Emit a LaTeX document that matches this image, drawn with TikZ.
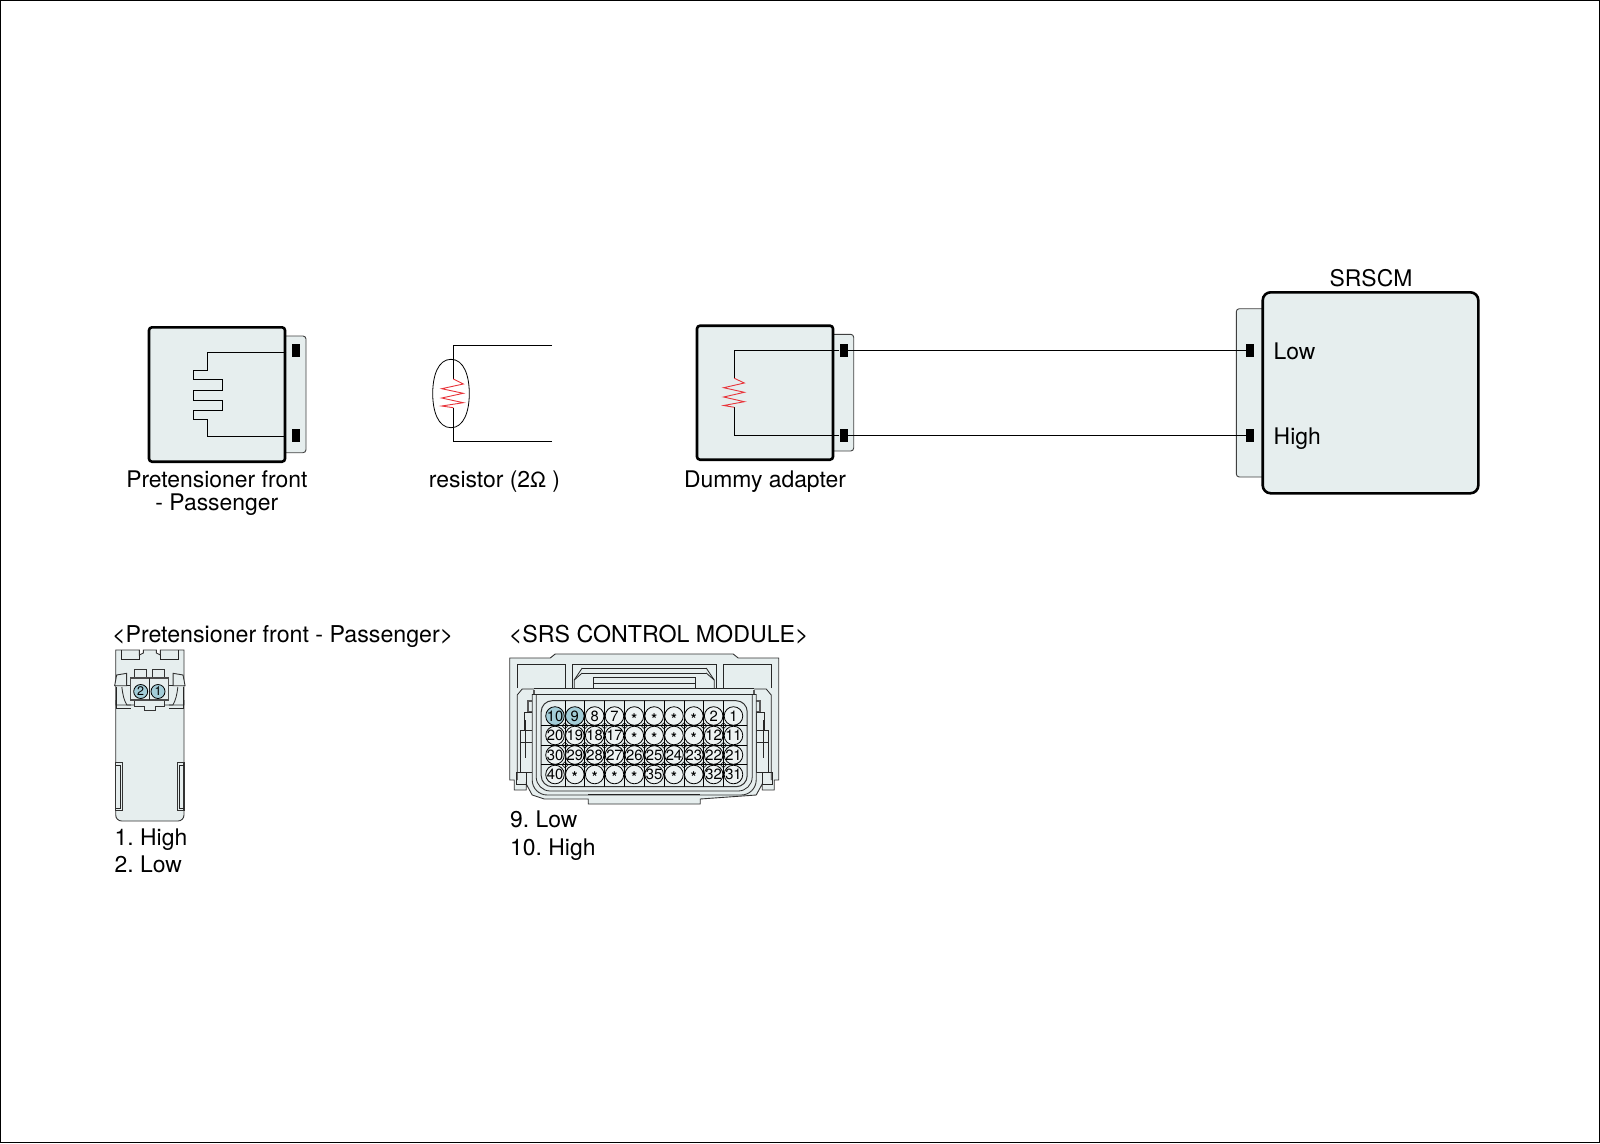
\documentclass[tikz,border=0pt]{standalone}
\usepackage{fontspec}
\setmainfont{TeX Gyre Heros}
\frenchspacing
\usetikzlibrary{positioning}
\definecolor{modfill}{HTML}{E6EEEE}
\definecolor{pinblue}{HTML}{A3CDD8}
\definecolor{pinface}{HTML}{EEF3F3}
\definecolor{coilred}{HTML}{E8343A}
\newcommand{\stardot}{\smash{\raisebox{-0.55em}{\textbf{*}}}}
\tikzset{
  modbox/.style = {draw, line width = 2.6, rounded corners = 3, fill = modfill, inner sep = 0},
  tabbox/.style = {draw = black!75, line width = 0.9, rounded corners = 3, fill = modfill},
  lug/.style = {fill = black, inner sep = 0, minimum width = 8, minimum height = 13},
  lbl/.style = {font = \fontsize{22.9}{24}\selectfont, inner sep = 0, anchor = base},
  lblw/.style = {lbl, anchor = base west},
  wire/.style = {line width = 1},
  coil/.style = {draw = coilred, line width = 0.9},
  thin line/.style = {draw = black!85, line width = 0.8},
  shell/.style = {draw = black!80, line width = 0.9, fill = modfill},
  pincirc/.style = {circle, draw, line width = 0.8, inner sep = 0, minimum size = 18.6,
    font = \fontsize{14.8}{15}\selectfont},
  smallpin/.style = {circle, draw, line width = 0.8, inner sep = 0, minimum size = 14,
    fill = pinblue, font = \fontsize{12.5}{13}\selectfont}
}
\begin{document}
\begin{tikzpicture}[x = 1pt, y = -1pt]
  \useasboundingbox (0, 0) rectangle (1600, 1143);
  \draw [line width = 1] (0.5, 0.5) rectangle (1599.5, 1142.5);

  % pretensioner
  \draw [tabbox] (280, 336) rectangle (306, 452.7);
  \node [modbox, minimum width = 136, minimum height = 134.4] (pret) at (217, 394.5) {};
  \node [lug] (pretA) at (296, 350.3) {};
  \node [lug] (pretB) at (296, 435.3) {};
  \draw [wire] (pret.east |- 0, 352.3) -- (207.3, 352.3) -- (207.3, 370) -- (193.3, 370)
    -- (193.3, 379.3) -- (222.3, 379.3) -- (222.3, 390) -- (193.3, 390) -- (193.3, 400.3)
    -- (222.3, 400.3) -- (222.3, 410.7) -- (193.3, 410.7) -- (193.3, 419.3) -- (207.3, 419.3)
    -- (207.3, 436.7) -- (pret.east |- 0, 436.7);
  \node [lbl] (pretlbl) at (216.8, 487) {Pretensioner front};
  \node [lbl] (pretlblb) at (216.8, 510.3) {- Passenger};

  % resistor
  \coordinate (resA) at (552, 345.3);
  \coordinate (resB) at (552, 441);
  \draw [wire] (resA) -- (453.3, 345.3) -- (453.3, 379);
  \draw [wire] (resB) -- (453.3, 441) -- (453.3, 407.7);
  \draw [line width = 0.8] (451, 359.3) .. controls (438, 359.3) and (432.7, 376) .. (432.7, 393.5)
    .. controls (432.7, 411) and (438, 427.7) .. (451, 427.7)
    .. controls (464, 427.7) and (469.3, 411) .. (469.3, 393.5)
    .. controls (469.3, 376) and (464, 359.3) .. (451, 359.3) -- cycle;
  \draw [coil] (453.3, 379) -- (463.3, 384) -- (441.7, 388.7) -- (463.3, 393.3) -- (441.7, 398)
    -- (463.3, 402.7) -- (441.7, 406) -- (453.3, 407.7);
  \node [lbl] (reslbl) at (494.5, 487) {resistor (2{\fontsize{21}{22}\selectfont Ω} )};

  % dummy adapter
  \draw [tabbox] (828, 334.3) rectangle (853.7, 451);
  \node [modbox, minimum width = 136, minimum height = 134] (dummy) at (765, 392.7) {};
  \node [lug] (dumA) at (843.5, 350.3) {};
  \node [lug] (dumB) at (843.5, 435.2) {};
  \draw [wire] (dumA) -- (734.3, 350.3) -- (734.3, 378.3);
  \draw [wire] (dumB) -- (734.3, 435.2) -- (734.3, 407.3);
  \draw [coil] (734.3, 378.3) -- (744.3, 383) -- (723.7, 387.7) -- (744.3, 392.3) -- (723.7, 397)
    -- (744.3, 401.7) -- (723.7, 405.5) -- (734.3, 407.3);
  \node [lbl] (dumlbl) at (765, 487.3) {Dummy adapter};

  % srscm
  \draw [tabbox] (1236.3, 308.7) rectangle (1275, 477);
  \node [modbox, rounded corners = 8, minimum width = 215.6, minimum height = 201] (srscm) at (1370.5, 392.8) {};
  \node [lug] (srsA) at (1249.7, 350.3) {};
  \node [lug] (srsB) at (1249.7, 435.2) {};
  \draw [wire] (dumA) -- (srsA);
  \draw [wire] (dumB) -- (srsB);
  \node [lbl] (srslbl) at (1371, 286.5) {SRSCM};
  \node [lblw] (srsL) at (1273.5, 359.5) {Low};
  \node [lblw] (srsH) at (1273.5, 444.2) {High};

  % pretensioner connector
  \node [lblw, font = \fontsize{23.2}{24}\selectfont] (cnAlbl) at (111.8, 642.3) {<Pretensioner front - Passenger>};
  \draw [shell, rounded corners = 6] (115.7, 700) -- (115.7, 821) -- (184, 821) -- (184, 700);
  \draw [shell] (115.7, 705) -- (115.7, 650) -- (139.3, 650) -- (139.3, 655) -- (143.3, 653) -- (143.3, 650)
    -- (156.3, 650) -- (156.3, 653) -- (160.3, 655) -- (160.3, 650) -- (184, 650) -- (184, 705) -- cycle;
  \draw [thin line] (121, 650) -- (121, 659) -- (139.3, 659) -- (139.3, 655);
  \draw [thin line] (178.7, 650) -- (178.7, 659) -- (160.3, 659) -- (160.3, 655);
  \foreach \sgn in {1, -1} {
    \begin{scope} [shift = {(149.85, 0)}, xscale = \sgn]
      \draw [shell] (-33.2, 675) -- (-23.2, 673.3) -- (-23.2, 685.7) -- (-35.2, 685.7) -- cycle;
      \draw [thin line] (-33.8, 687) -- (-33.8, 708) -- (-19, 708);
      \draw [thin line] (-28, 687) .. controls (-27, 695) and (-26, 700) .. (-23, 705) -- (-19, 705);
      \draw [thin line] (-23.2, 685.7) -- (-19, 685.7);
      \draw [shell, line width = 1.1] (-34.1, 762.7) rectangle (-27.2, 810.7);
      \draw [thin line] (-34.1, 765) -- (-29.5, 765) -- (-29.5, 808) -- (-34.1, 808);
    \end{scope}
  }
  \draw [shell] (134, 669) rectangle (146.7, 678.3);
  \draw [shell] (152.3, 669) rectangle (164.3, 678.3);
  \draw [shell] (134, 700) -- (134, 706.7) -- (144, 706.7) -- (144, 710.7) -- (155, 710.7) -- (155, 706.7)
    -- (164.3, 706.7) -- (164.3, 700) -- cycle;
  \draw [shell, line width = 1.1, draw = black!70] (130.7, 678) rectangle (168.3, 700);
  \draw [thin line] (149.5, 678) -- (149.5, 700);
  \node [smallpin] (cnApinB) at (140.7, 691.5) {2};
  \node [smallpin] (cnApinA) at (158, 691.5) {1};
  \node [lblw] (cnAone) at (114.5, 845.5) {1. High};
  \node [lblw] (cnAtwo) at (114.5, 872.5) {2. Low};

  % control module connector
  \node [lblw, font = \fontsize{23.2}{24}\selectfont] (cnBlbl) at (508.7, 642.3) {<SRS CONTROL MODULE>};
  \begin{scope} [shift = {(644.2, 0)}]
    \draw [shell] (-89, 654) -- (89, 654) -- (94, 658) -- (134.5, 658) -- (134.5, 780) -- (130, 780) -- (130, 790)
      -- (118, 790) -- (118, 784) -- (112, 795) -- (56, 799) -- (56, 804) -- (-56, 804) -- (-56, 799)
      -- (-100, 799) -- (-112, 795) -- (-118, 784) -- (-118, 790) -- (-130, 790) -- (-130, 780) -- (-134.5, 780)
      -- (-134.5, 658) -- (-94, 658) -- cycle;
    \foreach \sgn in {1, -1} {
      \begin{scope} [xscale = \sgn]
        \draw [thin line] (-127, 688) -- (-127, 664) -- (-79, 664) -- (-79, 688);
        \draw [thin line] (-127, 780) -- (-127, 695) -- (-122, 689) -- (-110, 689);
        \draw [draw = black!65, line width = 1.6] (-110, 690) -- (-110, 701) -- (-116, 701) -- (-116, 712) -- (-110, 712);
        \draw [thin line] (-120, 712) rectangle (-112, 730);
        \draw [thin line] (-124, 730) rectangle (-112, 742);
        \draw [thin line] (-119, 720) -- (-119, 758);
        \draw [thin line] (-124, 742) -- (-124, 772) -- (-112, 772) -- (-112, 742);
        \draw [thin line] (-128, 772) rectangle (-118, 784);
        \draw [thin line] (-72, 688) -- (-72, 664);
        \draw [thin line] (-70, 688) -- (-70, 680) -- (-62, 668);
        \draw [thin line] (-70, 680) -- (-62, 673);
      \end{scope}
    }
    \draw [thin line] (-72, 664) -- (72, 664);
    \draw [thin line] (-62, 668) -- (62, 668);
    \draw [thin line] (-62, 673) -- (62, 673);
    \draw [thin line] (-51, 683) -- (-51, 677.3) -- (51, 677.3) -- (51, 683);
    \draw [thin line] (-51, 683) -- (51, 683) -- (51, 688);
    \draw [thin line] (-51, 683) -- (-51, 688);
    \draw [thin line] (-110, 688) -- (110, 688);
    \draw [thin line] (-110, 694) -- (110, 694);
    % shell round the cavity
    \draw [shell, rounded corners = 15] (-112, 694) -- (-112, 795) -- (112, 795) -- (112, 694);
    \draw [thin line, rounded corners = 14] (-108, 694) -- (-108, 791) -- (108, 791) -- (108, 694);
    \draw [thin line] (-56, 794) -- (56, 794);
    \draw [shell, line width = 1, rounded corners = 11] (-103, 700.7) rectangle (103, 786.7);
    \draw [thin line] (-112, 694) -- (112, 694);
  \end{scope}
  % cavity grid, then the pins on it
  \begin{scope}
    \clip [rounded corners = 11] (541.2, 700.7) rectangle (747.2, 786.7);
    \foreach \xc in {1, ..., 9} {
      \draw [line width = 0.7] (555 + 19.83 * \xc - 9.9, 700) -- (555 + 19.83 * \xc - 9.9, 787);
    }
    \foreach \yc in {1, 2, 3} {
      \draw [line width = 0.7] (540, 716 + 19.5 * \yc - 9.75) -- (748, 716 + 19.5 * \yc - 9.75);
    }
    \foreach \xc in {1, ..., 9} {
      \foreach \yc in {1, 2, 3} {
        \draw [line width = 0.5] (555 + 19.83 * \xc - 9.9 - 3, 716 + 19.5 * \yc - 9.75)
          -- ++(3, -3) -- ++(3, 3) -- ++(-3, 3) -- cycle;
      }
    }
  \end{scope}
  \foreach \lab [count = \i from 0] in {10, 9, 8, 7, \stardot, \stardot, \stardot, \stardot, 2, 1,
      20, 19, 18, 17, \stardot, \stardot, \stardot, \stardot, 12, 11,
      30, 29, 28, 27, 26, 25, 24, 23, 22, 21,
      40, \stardot, \stardot, \stardot, \stardot, 35, \stardot, \stardot, 32, 31} {
    \pgfmathsetmacro{\cx}{555 + 19.83 * mod(\i, 10)}
    \pgfmathsetmacro{\cy}{716 + 19.5 * int(\i / 10)}
    \ifnum\i<2 \def\pinfill{pinblue}\else\def\pinfill{pinface}\fi
    \node [pincirc, fill = \pinfill] (pin\i) at (\cx, \cy) {\makebox[0pt]{\lab}};
  }
  \node [lblw] (cnBone) at (510, 827.5) {9. Low};
  \node [lblw] (cnBtwo) at (510, 855) {10. High};
\end{tikzpicture}
\end{document}
